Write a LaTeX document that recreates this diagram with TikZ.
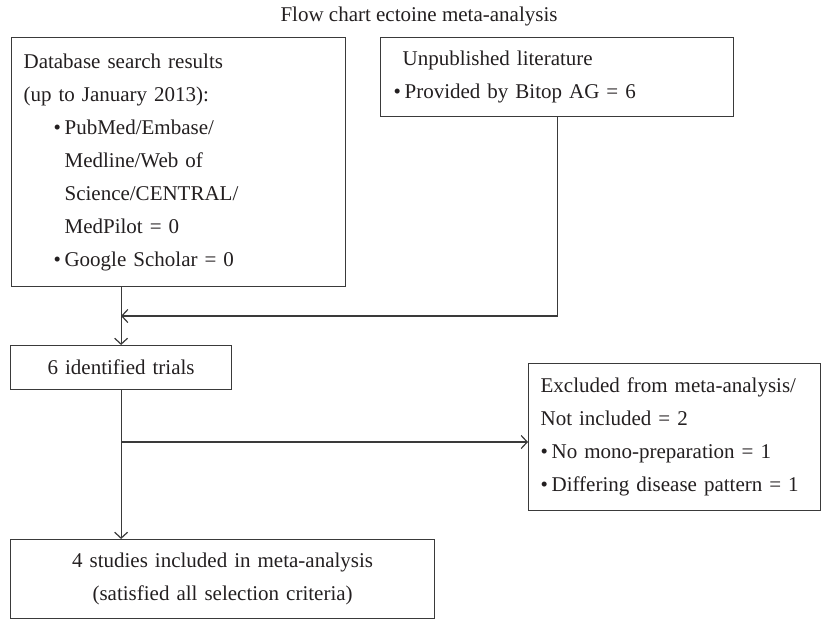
\documentclass[tikz,border=0pt]{standalone}
\usepackage{fontspec}
\setmainfont{Liberation Serif}
\usepackage{xcolor}
\usetikzlibrary{arrows.meta}
\usetikzlibrary{positioning}

\definecolor{linegray}{HTML}{3A3A3A}
\definecolor{txtblack}{HTML}{231F20}
\newcommand{\bul}{\makebox[11pt][l]{\textbullet}}

\tikzset{
	box/.style={draw=linegray, line width=1.2pt, anchor=north west, inner ysep=0pt, align=left, text=txtblack, font=\fontsize{21}{33}\selectfont},
	conn/.style={draw=linegray, line width=1.2pt, -{Straight Barb[length=6pt,width=13pt]}}
}

\begin{document}
\begin{tikzpicture}[x=1pt,y=-1pt]
			\useasboundingbox (0,0) rectangle (821,619);
			\node[text=txtblack, font=\fontsize{21}{24}\selectfont] (title) at (419,16) {Flow chart ectoine meta-analysis};

			% sources
			\node[box, minimum width=334pt, minimum height=249pt, inner xsep=12pt, text width=310pt] (db) at (11,37)
				{Database search results\\(up to January 2013):\\
				\hspace*{30pt}\bul PubMed/Embase/\\\hspace*{41pt}Medline/Web of\\\hspace*{41pt}Science/CENTRAL/\\
				\hspace*{41pt}MedPilot = 0\\\hspace*{30pt}\bul Google Scholar = 0};
			\node[box, minimum width=353pt, minimum height=79pt, inner xsep=13pt, text width=327pt] (unpub) at (380,37)
				{\hspace*{9pt}Unpublished literature\\\bul Provided by Bitop AG = 6};

			% trials and results
			\node[box, minimum width=221pt, minimum height=44pt, inner xsep=0pt, text width=221pt, align=center] (trials) at (10,345) {6 identified trials};
			\node[box, minimum width=292pt, minimum height=147pt, inner xsep=12pt, text width=268pt] (excl) at (528,363)
				{Excluded from meta-analysis/\\Not included = 2\\
				\bul No mono-preparation = 1\\\bul Differing disease pattern = 1};
			\node[box, minimum width=424pt, minimum height=79pt, inner xsep=0pt, text width=424pt, align=center] (final) at (10,539)
				{4 studies included in meta-analysis\\(satisfied all selection criteria)};

			\coordinate (merge) at (121,316);
			\coordinate (split) at (121,442);

			\draw[conn] (trials.north |- db.south) -- (trials.north);
			\draw[conn] (unpub.south) |- (merge);
			\draw[conn] (trials.south) -- (trials.south |- final.north);
			\draw[conn] (split) -- (split -| excl.west);
		\end{tikzpicture}
\end{document}
